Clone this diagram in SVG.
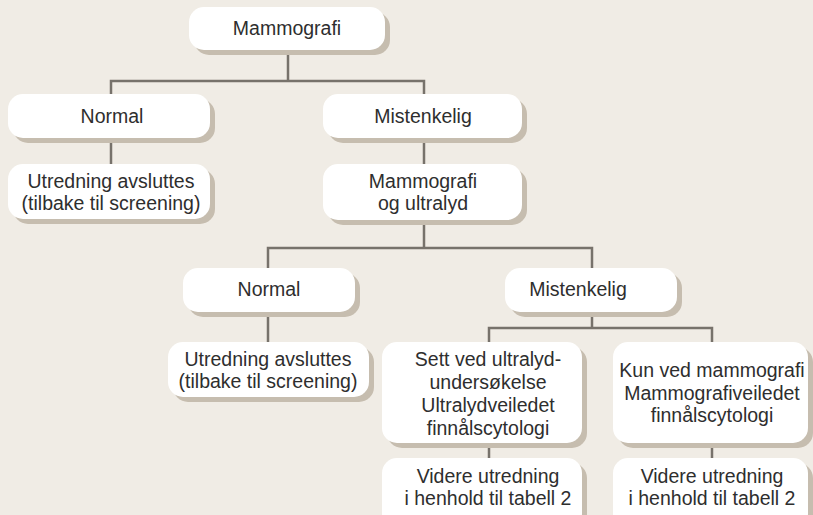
<svg xmlns="http://www.w3.org/2000/svg" width="813" height="515" viewBox="0 0 813 515">
<style>
.bg{fill:#f0ece5}
.sh{fill:#c6bdaf}
.bx{fill:#ffffff}
.ln{stroke:#77726b;stroke-width:2.5;fill:none}
text{font-family:"Liberation Sans",Arial,sans-serif;font-size:19.5px;fill:#2e2e2e;text-anchor:middle}
</style>
<rect class="bg" x="0" y="0" width="813" height="515"/>
<g id="connectors">
<path class="ln" d="M288 50V81M111 94V81H424V94M111 138V164M424 138V164M424 220V248M268 268V248H592V268M268 312V342M592 312V328M489 342V328H712V342M489 443V458M712 443V458"/>
</g>
<g id="n1"><rect class="sh" x="194" y="12" width="196" height="43" rx="15"/><rect class="bx" x="189" y="7" width="196" height="43" rx="15"/><text x="287" y="35">Mammografi</text></g>
<g id="n2"><rect class="sh" x="13" y="99" width="202" height="44" rx="15"/><rect class="bx" x="8" y="94" width="202" height="44" rx="15"/><text x="112" y="123">Normal</text></g>
<g id="n3"><rect class="sh" x="13" y="169" width="202" height="55" rx="15"/><rect class="bx" x="8" y="164" width="202" height="55" rx="15"/><text x="111" y="188">Utredning avsluttes</text><text x="111" y="210">(tilbake til screening)</text></g>
<g id="n4"><rect class="sh" x="328" y="99" width="199" height="44" rx="15"/><rect class="bx" x="323" y="94" width="199" height="44" rx="15"/><text x="423" y="123">Mistenkelig</text></g>
<g id="n5"><rect class="sh" x="328" y="169" width="199" height="56" rx="15"/><rect class="bx" x="323" y="164" width="199" height="56" rx="15"/><text x="423" y="188">Mammografi</text><text x="423" y="210">og ultralyd</text></g>
<g id="n6"><rect class="sh" x="188" y="273" width="172" height="44" rx="15"/><rect class="bx" x="183" y="268" width="172" height="44" rx="15"/><text x="269" y="296">Normal</text></g>
<g id="n7"><rect class="sh" x="173" y="347" width="201" height="55" rx="15"/><rect class="bx" x="168" y="342" width="201" height="55" rx="15"/><text x="268" y="366">Utredning avsluttes</text><text x="268" y="388">(tilbake til screening)</text></g>
<g id="n8"><rect class="sh" x="510" y="273" width="172" height="44" rx="15"/><rect class="bx" x="505" y="268" width="172" height="44" rx="15"/><text x="578" y="296">Mistenkelig</text></g>
<g id="n9"><rect class="sh" x="387" y="347" width="200" height="101" rx="15"/><rect class="bx" x="382" y="342" width="200" height="101" rx="15"/><text x="488" y="366">Sett ved ultralyd-</text><text x="488" y="389">undersøkelse</text><text x="488" y="412">Ultralydveiledet</text><text x="488" y="435">finnålscytologi</text></g>
<g id="n10"><rect class="sh" x="387" y="463" width="200" height="70" rx="15"/><rect class="bx" x="382" y="458" width="200" height="70" rx="15"/><text x="488" y="483">Videre utredning</text><text x="488" y="505">i henhold til tabell 2</text></g>
<g id="n11"><rect class="sh" x="618" y="347" width="195" height="101" rx="15"/><rect class="bx" x="613" y="342" width="195" height="101" rx="15"/><text x="712" y="377">Kun ved mammografi</text><text x="712" y="400">Mammografiveiledet</text><text x="712" y="422">finnålscytologi</text></g>
<g id="n12"><rect class="sh" x="618" y="463" width="195" height="70" rx="15"/><rect class="bx" x="613" y="458" width="195" height="70" rx="15"/><text x="712" y="483">Videre utredning</text><text x="712" y="505">i henhold til tabell 2</text></g>
</svg>
